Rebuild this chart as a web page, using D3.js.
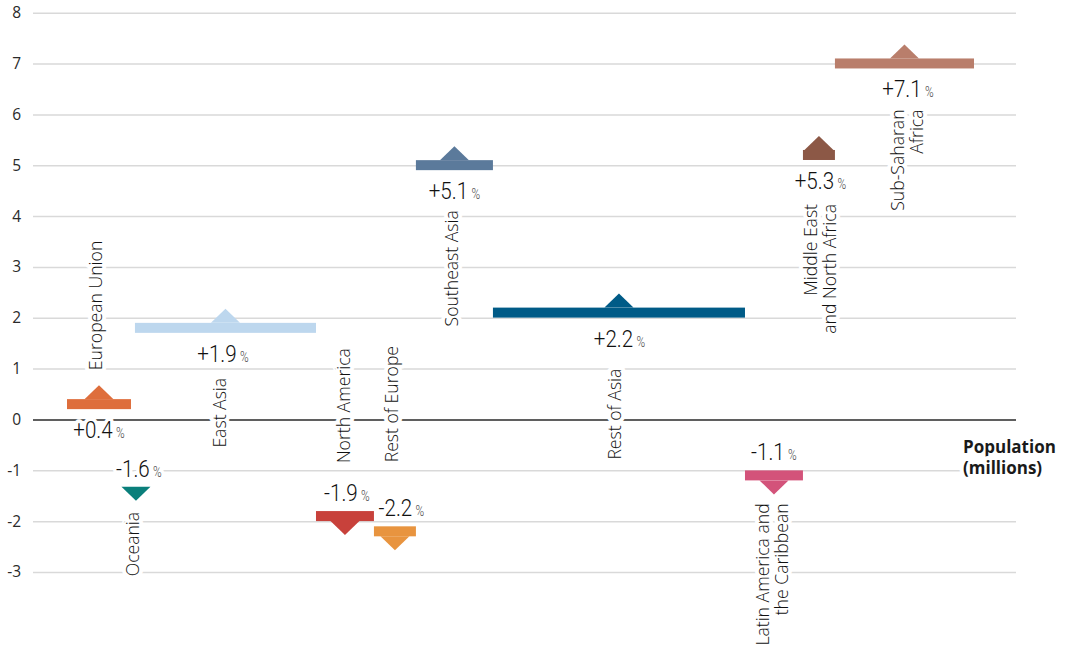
<!DOCTYPE html>
<html><head><meta charset="utf-8">
<script src="https://cdn.jsdelivr.net/npm/d3@7"></script>
<style>
body{margin:0;background:#fff;}
svg{display:block;}
</style></head><body>
<svg id="chart" width="1071" height="657"></svg>
<script>
// ---------- data ----------
const regions = ["European Union","Oceania","East Asia","North America","Rest of Europe","Southeast Asia","Rest of Asia","Latin America and the Caribbean","Middle East and North Africa","Sub-Saharan Africa"];
const population = [564, 35, 1596, 511, 370, 679, 2222, 511, 282, 1226];   // millions (bar widths)
const change = [0.4, -1.6, 1.9, -1.9, -2.2, 5.1, 2.2, -1.1, 5.3, 7.1];     // % change
const colors = ["#DE6E3C","#0A7F7B","#BDD7EE","#C8413B","#E8943F","#5B7A9B","#005B87","#D3537A","#8C5846","#B97E6B"];
const labelLines = [["European Union"],["Oceania"],["East Asia"],["North America"],["Rest of Europe"],["Southeast Asia"],["Rest of Asia"],["Latin America and","the Caribbean"],["Middle East","and North Africa"],["Sub-Saharan","Africa"]];
const yTicks = [8,7,6,5,4,3,2,1,0,-1,-2,-3];
const xTitle = ["Population","(millions)"];

// ---------- annotation layout (placement only) ----------
const layout = [
  {region:"above",    gap:15, dx:-3.5, pctDx:0,   markDx:0},
  {region:"below",    gap:11, dx:0,    pctDx:6,   markDx:3},
  {region:"belowPct", gap:16, dx:-6,   pctDx:-2.5,markDx:0},
  {region:"abovePct", gap:38, dx:-1,   pctDx:2,   markDx:0},
  {region:"abovePct", gap:54, dx:-3.5, pctDx:6.5, markDx:0},
  {region:"belowPct", gap:11, dx:-3,   pctDx:0,   markDx:0},
  {region:"belowPct", gap:22, dx:-4,   pctDx:0.5, markDx:0},
  {region:"below",    gap:9,  dx:-1.5, pctDx:0,   markDx:0},
  {region:"belowPct", gap:15, dx:1.5,  pctDx:1.5, markDx:0},
  {region:"belowPct", gap:12, dx:3,    pctDx:3.5, markDx:0}
];

// ---------- chart ----------
const svg = d3.select("#chart");
const left = 33, right = 1016;
const y = d3.scaleLinear().domain([-3, 8]).range([572, 12.7]);
const x = d3.scaleLinear().domain([0, d3.sum(population)]).range([67, 974]);
const cum = d3.cumsum(population);
const BAR_H = 10, TRI_H = 14, TRI_HW = 14.5;

const data = regions.map((r, i) => {
  const x0 = x(cum[i] - population[i]), x1 = x(cum[i]);
  const lay = layout[i];
  const v = change[i];
  const cx = (x0 + x1) / 2;
  const narrow = (x1 - x0) < 2 * TRI_HW;
  let barTop, apex, base, markTop, markBot;
  if (v >= 0) {
    barTop = y(v); base = barTop; apex = barTop - TRI_H;
    markTop = apex; markBot = barTop + BAR_H;
  } else if (!narrow) {
    barTop = y(v) - BAR_H / 2; base = barTop + BAR_H; apex = base + TRI_H;
    markTop = barTop; markBot = apex;
  } else {
    apex = y(v); base = apex - TRI_H; barTop = base;
    markTop = base; markBot = apex;
  }
  const pctBase = v >= 0 ? (barTop + BAR_H + 29) : (markTop - 10);
  return {region:r, v, color:colors[i], lines:labelLines[i], x0, x1, cx, narrow, barTop, apex, base, markTop, markBot, pctBase, lay};
});

// axis + gridlines
const axis = d3.axisLeft(y).tickValues(yTicks).tickSize(-(right - left)).tickPadding(12).tickFormat(d => String(d));
const gAxis = svg.append("g").attr("transform", `translate(${left},0)`).call(axis);
gAxis.select(".domain").remove();
gAxis.selectAll(".tick line")
  .attr("stroke", d => d === 0 ? "#2a2a2a" : "#d9d9d9")
  .attr("stroke-width", d => d === 0 ? 1.6 : 1.5);
gAxis.selectAll(".tick text")
  .attr("font-family", "'Open Sans', 'Noto Sans', sans-serif")
  .attr("font-size", 15.5).attr("fill", "#2a2a2a");

// text layer (with white halo, cuts lines beneath)
const gText = svg.append("g");
function halo(sel){ return sel.attr("stroke","#fff").attr("stroke-width",8).attr("stroke-linejoin","round").attr("paint-order","stroke"); }

// percent labels (condensed)
data.forEach(d => {
  const t = gText.append("text")
    .attr("transform", `translate(${d.cx + d.lay.pctDx},${d.pctBase}) scale(0.84,1)`)
    .attr("text-anchor", "middle")
    .attr("font-family", "Roboto, sans-serif").attr("font-weight", 300)
    .attr("fill", "#111");
  halo(t);
  t.append("tspan").attr("font-size", 24.5).text((d.v > 0 ? "+" : "") + d.v.toFixed(1));
  t.append("tspan").attr("font-size", 14).attr("dx", 4).attr("fill", "#444").text("%");
});

// region labels (rotated)
data.forEach(d => {
  let ay, anchor;
  const L = d.lay;
  if (L.region === "above") { ay = d.apex - L.gap; anchor = "start"; }
  else if (L.region === "below") { ay = d.markBot + L.gap; anchor = "end"; }
  else if (L.region === "belowPct") { ay = d.pctBase + L.gap; anchor = "end"; }
  else { ay = d.pctBase - L.gap; anchor = "start"; }
  const cxl = d.cx + L.dx;
  const n = d.lines.length, lh = 19;
  const t = gText.append("text")
    .attr("transform", `translate(${cxl},${ay}) rotate(-90)`)
    .attr("text-anchor", anchor)
    .attr("font-family", "'Open Sans', 'Noto Sans', sans-serif")
    .attr("font-weight", 300).attr("font-size", 17.6).attr("fill", "#111");
  halo(t);
  d.lines.forEach((ln, k) => {
    t.append("tspan").attr("x", 0).attr("y", (k - (n - 1) / 2) * lh).attr("dy", "0.36em").text(ln);
  });
});

// x title
const tt = gText.append("text").attr("x", 963).attr("y", 453)
  .attr("font-family", "'Open Sans', 'Noto Sans', sans-serif").attr("font-weight", 700)
  .attr("font-size", 17).attr("fill", "#1a1a1a");
halo(tt);
xTitle.forEach((s, k) => tt.append("tspan").attr("x", 963).attr("dy", k ? 21 : 0).text(s));

// marks
const gMarks = svg.append("g");
gMarks.selectAll("rect").data(data.filter(d => !d.narrow)).join("rect")
  .attr("x", d => d.x0).attr("width", d => d.x1 - d.x0)
  .attr("y", d => d.barTop).attr("height", BAR_H)
  .attr("fill", d => d.color);
gMarks.selectAll("path").data(data).join("path")
  .attr("d", d => {
    const c = d.cx + (d.lay.markDx || 0);
    return `M${c - TRI_HW},${d.base}L${c},${d.apex}L${c + TRI_HW},${d.base}Z`;
  })
  .attr("fill", d => d.color);
</script>
</body></html>
